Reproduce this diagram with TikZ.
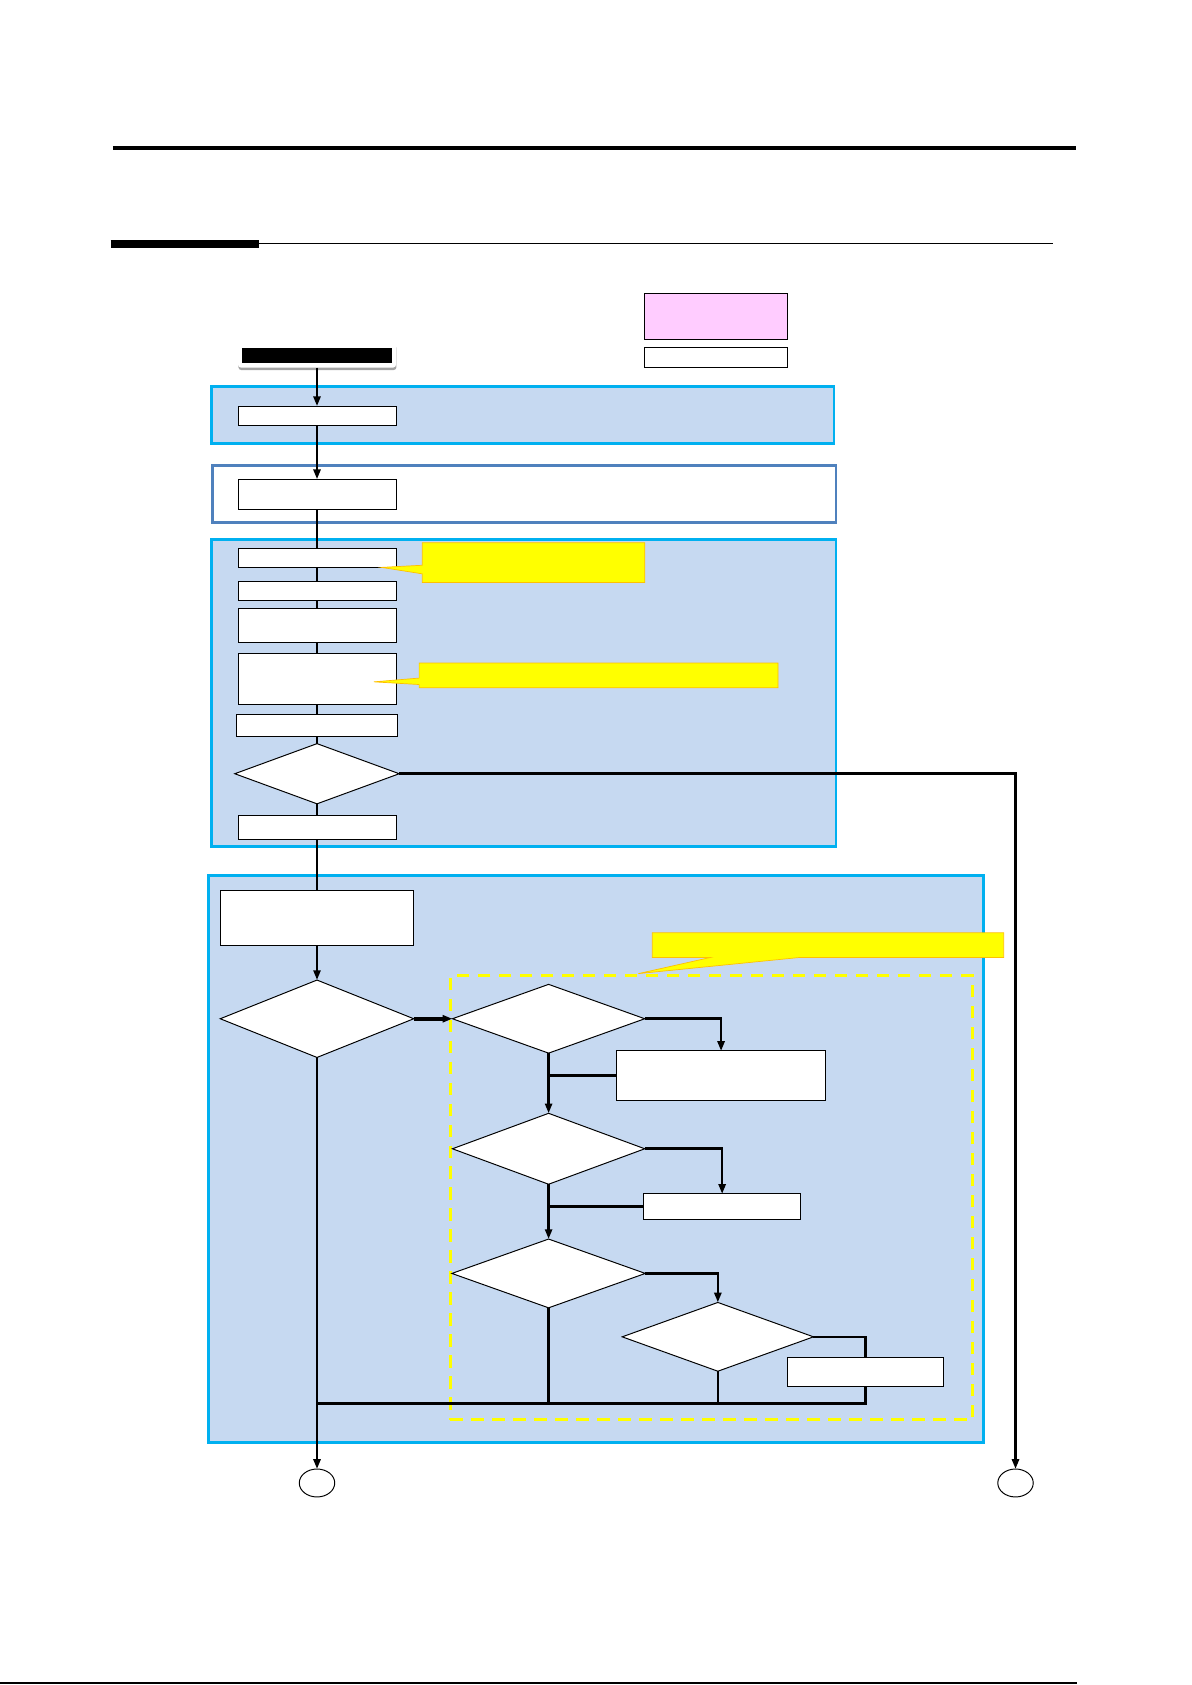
\documentclass[tikz,border=0pt]{standalone}
\usepackage{tikz}
\usetikzlibrary{arrows.meta, positioning, shapes.geometric, shadows}
\definecolor{grpfill}{HTML}{C6D9F1}
\definecolor{grpcyan}{HTML}{00B0F0}
\definecolor{grpblue}{HTML}{4F81BD}
\definecolor{legpink}{HTML}{FFCCFF}
\definecolor{noteedge}{HTML}{FFC000}
\definecolor{noteyel}{HTML}{FFFF00}
\def\pxu{0.027cm}

\begin{document}
\begin{tikzpicture}[
    x=\pxu, y=-\pxu,
    sz/.style 2 args={minimum width=#1*\pxu, minimum height=#2*\pxu},
    box/.style={rectangle, draw=black, fill=white, line width=0.7pt,
                inner sep=0pt, outer sep=0pt},
    dec/.style={diamond, draw=black, fill=white, line width=0.7pt,
                inner sep=0pt, outer sep=0pt},
    grp/.style={rectangle, draw=grpcyan, fill=grpfill, line width=2pt,
                inner sep=0pt, outer sep=0pt},
    term/.style={ellipse, draw=black, fill=white, line width=0.7pt,
                 inner sep=0pt, outer sep=0pt},
    note/.style={fill=noteyel, draw=noteedge, line width=0.5pt},
    wire/.style={line width=1.9pt, black},
    arr/.style={wire, -{Triangle[length=7pt, width=5pt]}},
]
  \useasboundingbox (0,0) rectangle (1109,1568);

  %% ---- page rules ----
  \draw[line width=3pt] (105,138) -- (1001,138);
  \draw[line width=5.5pt] (103,227) -- (241,227);
  \draw[line width=0.8pt] (241,227) -- (980,227);
  \draw[line width=1.5pt] (0,1566) -- (1002,1566);

  %% ---- legend ----
  \node[box, fill=legpink, sz={133}{43}] (lgpink)  at (666.5,294.5) {};
  \node[box, sz={133}{19}]               (lgwhite) at (666.5,332.5) {};

  %% ---- group frames ----
  \node[grp, sz={579}{53}]  (g1) at (486.5,386.5) {};
  \node[grp, fill=white, draw=grpblue, sz={580}{53}] (g2) at (488,459.5) {};
  \node[grp, sz={581}{286}] (g3) at (487.5,645) {};
  \node[grp, sz={721}{527}] (g4) at (554.5,1078.5) {};
  \node[draw=noteyel, line width=2.3pt, dash pattern=on 9pt off 6pt,
        inner sep=0pt, sz={486}{413}] (zone) at (662,1114.5) {};

  %% ---- start ----
  \node[box, draw=none, rounded corners=2pt, sz={147}{23},
        drop shadow={shadow xshift=0.3pt, shadow yshift=-1.8pt,
                     fill=black!60, opacity=0.6}] (start) at (295,330.5) {};
  \node[fill=black, inner sep=0pt, sz={140}{14}] (startbar) at (start.center) {};

  %% ---- main column ----
  \node[box, sz={147}{18}] (b1) at (295,387) {};
  \node[box, sz={147}{28}] (b2) at (295,460) {};
  \node[box, sz={147}{18}] (b3) at (295,519) {};
  \node[box, sz={147}{18}] (b4) at (295,550) {};
  \node[box, sz={147}{32}] (b5) at (295,582) {};
  \node[box, sz={147}{48}] (b6) at (295,632) {};
  \node[box, sz={149}{20}] (b7) at (295,675) {};
  \node[dec, sz={153}{56}] (d1) at (295,720) {};
  \node[box, sz={147}{22}] (b8) at (295,770) {};
  \node[box, sz={180}{51}] (b9) at (295,854.5) {};
  \node[dec, sz={180}{72}] (d2) at (295,948) {};

  %% ---- checks inside the dashed zone ----
  \node[dec, sz={179}{64}] (d3)  at (510.5,948) {};
  \node[box, sz={194}{46}] (b10) at (671,1001) {};
  \node[dec, sz={179}{66}] (d4)  at (510.5,1069) {};
  \node[box, sz={146}{24}] (b11) at (672,1123) {};
  \node[dec, sz={180}{64}] (d5)  at (510.5,1185) {};
  \node[dec, sz={178}{64}] (d6)  at (668,1244) {};
  \node[box, sz={145}{27}] (b12) at (805.5,1276.5) {};
  \coordinate (jn) at (295,1306);

  %% ---- exits ----
  \node[term, sz={33}{26}] (c1) at (295,1380) {};
  \node[term, sz={33}{26}] (c2) at (945,1380) {};

  %% ---- connectors ----
  \draw[arr]  (start) -- (b1);
  \draw[arr]  (b1) -- (b2);
  \draw[wire] (b2) -- (b3);
  \draw[wire] (b3) -- (b4);
  \draw[wire] (b4) -- (b5);
  \draw[wire] (b5) -- (b6);
  \draw[wire] (b6) -- (b7);
  \draw[wire] (b7) -- (d1);
  \draw[wire] (d1) -- (b8);
  \draw[arr]  (d1.east) -| (c2.north);
  \draw[wire] (b8) -- (b9);
  \draw[arr]  (b9) -- (d2);
  \draw[arr, line width=2.6pt] (d2) -- (d3);
  \draw[arr]  (d3.east) -| (b10.north);
  \draw[wire] (b10.west) -- (b10.west -| d3.south);
  \draw[arr]  (d3) -- (d4);
  \draw[arr]  (d4.east) -| (b11.north);
  \draw[wire] (b11.west) -- (b11.west -| d4.south);
  \draw[arr]  (d4) -- (d5);
  \draw[arr]  (d5.east) -| (d6.north);
  \draw[wire] (d6.east) -| (b12.north);
  \draw[wire] (b12.south) |- (d6.south |- jn);
  \draw[wire] (d6.south) -- (d6.south |- jn);
  \draw[wire] (d5.south) -- (d5.south |- jn);
  \draw[wire, line width=2.8pt] (d6.south |- jn) -- (jn);
  \draw[arr]  (d2) -- (c1);

  %% ---- yellow notes ----
  \filldraw[note] (393,505) -- (600,505) -- (600,542) -- (393,542)
                  -- (393,534) -- (355,528) -- (393,526) -- cycle;
  \filldraw[note] (390,617) -- (724,617) -- (724,640) -- (390,640)
                  -- (390,637) -- (348,634.5) -- (390,631) -- cycle;
  \filldraw[note] (607,868) -- (934,868) -- (934,891) -- (744,891)
                  -- (594,906) -- (661,891) -- (607,891) -- cycle;

\end{tikzpicture}
\end{document}
